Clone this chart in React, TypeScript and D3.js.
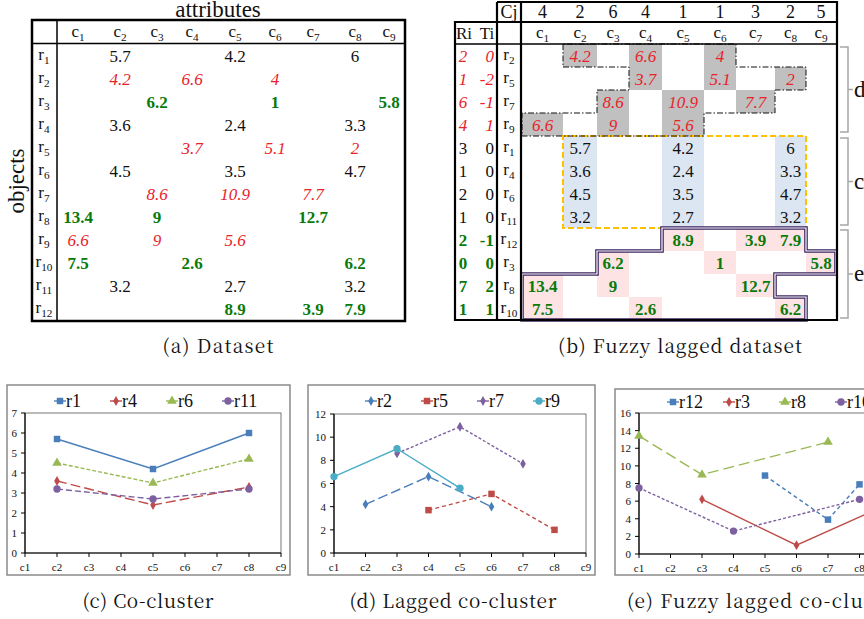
import React from "react";
import * as d3 from "d3";

// ---------------- DATA ----------------
const COLS = ["c1", "c2", "c3", "c4", "c5", "c6", "c7", "c8", "c9"];
const ROWS = ["r1", "r2", "r3", "r4", "r5", "r6", "r7", "r8", "r9", "r10", "r11", "r12"];

const r1 = [null, 5.7, null, null, 4.2, null, null, 6, null];
const r2 = [null, 4.2, null, 6.6, null, 4, null, null, null];
const r3 = [null, null, 6.2, null, null, 1, null, null, 5.8];
const r4 = [null, 3.6, null, null, 2.4, null, null, 3.3, null];
const r5 = [null, null, null, 3.7, null, 5.1, null, 2, null];
const r6 = [null, 4.5, null, null, 3.5, null, null, 4.7, null];
const r7 = [null, null, 8.6, null, 10.9, null, 7.7, null, null];
const r8 = [13.4, null, 9, null, null, null, 12.7, null, null];
const r9 = [6.6, null, 9, null, 5.6, null, null, null, null];
const r10 = [7.5, null, null, 2.6, null, null, null, 6.2, null];
const r11 = [null, 3.2, null, null, 2.7, null, null, 3.2, null];
const r12 = [null, null, null, null, 8.9, null, 3.9, 7.9, null];
const VALUES: Record<string, (number | null)[]> = { r1, r2, r3, r4, r5, r6, r7, r8, r9, r10, r11, r12 };

const GROUP_D = ["r2", "r5", "r7", "r9"];
const GROUP_C = ["r1", "r4", "r6", "r11"];
const GROUP_E = ["r12", "r3", "r8", "r10"];
const ORDER_B = [...GROUP_D, ...GROUP_C, ...GROUP_E];
const CJ = [4, 2, 6, 4, 1, 1, 3, 2, 5];
const RI = [2, 1, 6, 4, 3, 1, 2, 1, 2, 0, 7, 1];
const TI = [0, -2, -1, 1, 0, 0, 0, 0, -1, 0, 2, 1];

// ---------------- STYLE ----------------
const SERIF = '"Liberation Serif"';
const CAPFONT = '"Noto Serif CJK SC"';
const RED = "#e8232a";
const GREEN = "#0a7a0a";
const BLUE = "#4a7ebb";
const LRED = "#be4b48";
const LGREEN = "#98b954";
const PURPLE = "#7d60a0";
const CYAN = "#4bacc6";

// Text component that always carries its font inline
const T = ({ font, italic, bold, children, ...rest }: any) => (
  <text
    {...rest}
    style={{ fontFamily: font || SERIF, fontStyle: italic ? "italic" : "normal", fontWeight: bold ? "bold" : "normal" }}
  >
    {children}
  </text>
);

function groupStyle(row: string): any {
  if (GROUP_D.includes(row)) return { fill: RED, italic: true };
  if (GROUP_E.includes(row)) return { fill: GREEN, bold: true };
  return { fill: "#111" };
}

const Sub = ({ x, y, base, sub, size = 17 }: any) => (
  <T x={x} y={y} textAnchor="middle" fontSize={size} fill="#111">
    {base}
    <tspan dy={4} fontSize={size * 0.66}>{sub}</tspan>
  </T>
);

const Caption = ({ x, y, w, anchor, children }: any) => (
  <T x={x} y={y} textAnchor={anchor || "middle"} fontSize={19} fill="#111" textLength={w} lengthAdjust="spacing" font={CAPFONT}>
    {children}
  </T>
);

// ---------------- TABLE A ----------------
function TableA() {
  const x = d3.scaleOrdinal<string, number>(COLS, [78, 120, 157, 192, 235, 275, 313, 355, 389]);
  const y = d3.scaleBand<string>(ROWS, [44, 321]);
  const bw = y.bandwidth();
  return (
    <g>
      <T x={218} y={17} textAnchor="middle" fontSize={23} fill="#111">attributes</T>
      <T transform="translate(24,181) rotate(-90)" textAnchor="middle" fontSize={23} fill="#111">objects</T>
      {COLS.map((c) => (
        <Sub key={c} x={x(c)} y={37} base="c" sub={c.slice(1)} />
      ))}
      {ROWS.map((r) => (
        <g key={r}>
          <Sub x={44} y={(y(r) as number) + bw / 2 + 4} base="r" sub={r.slice(1)} />
          {VALUES[r].map((v, i) =>
            v == null ? null : (
              <T key={i} x={x(COLS[i])} y={(y(r) as number) + bw / 2 + 6} textAnchor="middle" fontSize={17} {...groupStyle(r)}>
                {String(v)}
              </T>
            )
          )}
        </g>
      ))}
      <rect x={32} y={20} width={373} height={301} fill="none" stroke="#000" strokeWidth={2.5} />
      <line x1={32} x2={405} y1={43.5} y2={43.5} stroke="#000" strokeWidth={1.5} />
      <line x1={57} x2={57} y1={20} y2={321} stroke="#000" strokeWidth={1.5} />
    </g>
  );
}

// ---------------- TABLE B ----------------
const XE = [522, 563, 597, 629, 662, 704, 736, 775, 806, 836];
function TableB() {
  const x = d3.scaleOrdinal<string, number>(COLS, XE.slice(0, 9));
  const w = (c: string) => XE[COLS.indexOf(c) + 1] - XE[COLS.indexOf(c)];
  const y = d3.scaleBand<string>(ORDER_B, [44, 320]);
  const bw = y.bandwidth();
  const ye = (j: number) => 44 + j * bw;
  const pt = (pts: number[][]) => "M" + pts.map(([i, j]) => `${XE[i]},${ye(j)}`).join("L") + "Z";
  const dPath = pt([[1, 0], [1, 1], [3, 1], [3, 2], [2, 2], [2, 3], [0, 3], [0, 4], [5, 4], [5, 3], [7, 3], [7, 2], [8, 2], [8, 1], [6, 1], [6, 0]]);
  const ePath = pt([[4, 8], [8, 8], [8, 9], [9, 9], [9, 10], [7, 10], [7, 11], [8, 11], [8, 12], [0, 12], [0, 10], [2, 10], [2, 9], [4, 9]]);
  const fillFor = (r: string) => (GROUP_D.includes(r) ? "#c0c0c0" : GROUP_E.includes(r) ? "#fde3e3" : "#dce6f2");
  const brace = (y0: number, y1: number, label: string) => {
    const ym = (y0 + y1) / 2;
    return (
      <g key={label}>
        <path d={`M840,${y0}H848V${y1}H840M848,${ym}H853`} fill="none" stroke="#a6a6a6" strokeWidth={1.5} />
        <T x={854} y={ym + 7} fontSize={23} fill="#111">{label}</T>
      </g>
    );
  };
  return (
    <g>
      {ORDER_B.map((r) =>
        VALUES[r].map((v, i) =>
          v == null ? null : (
            <rect key={r + i} x={x(COLS[i])} y={y(r)} width={w(COLS[i])} height={bw} fill={fillFor(r)} />
          )
        )
      )}
      {CJ.map((v, i) => (
        <T key={"cj" + i} x={x(COLS[i]) + w(COLS[i]) / 2} y={18} textAnchor="middle" fontSize={18} fill="#111">{v}</T>
      ))}
      <T x={509} y={18} textAnchor="middle" fontSize={18} fill="#111">Cj</T>
      {COLS.map((c) => (
        <Sub key={c} x={x(c) + w(c) / 2} y={38} base="c" sub={c.slice(1)} />
      ))}
      <T x={464} y={39} textAnchor="middle" fontSize={17} fill="#111">Ri</T>
      <T x={487} y={39} textAnchor="middle" fontSize={17} fill="#111">Ti</T>
      {ORDER_B.map((r, k) => {
        const cy = (y(r) as number) + bw / 2;
        return (
          <g key={r}>
            <T x={463} y={cy + 6} textAnchor="middle" fontSize={17} {...groupStyle(r)}>{RI[k]}</T>
            <T x={494} y={cy + 6} textAnchor="end" fontSize={17} {...groupStyle(r)}>{TI[k]}</T>
            <Sub x={509} y={cy + 4} base="r" sub={r.slice(1)} />
            {VALUES[r].map((v, i) =>
              v == null ? null : (
                <T key={i} x={x(COLS[i]) + w(COLS[i]) / 2} y={cy + 6} textAnchor="middle" fontSize={17} {...groupStyle(r)}>
                  {String(v)}
                </T>
              )
            )}
          </g>
        );
      })}
      <rect x={XE[1]} y={ye(4)} width={XE[8] - XE[1]} height={ye(8) - ye(4)} fill="none" stroke="#ffc000" strokeWidth={2} strokeDasharray="6,3" />
      <path d={dPath} fill="none" stroke="#111" strokeWidth={1} strokeDasharray="6,2,1.5,2" />
      <path d={ePath} fill="none" stroke="#3b2561" strokeWidth={3.6} />
      <path d={ePath} fill="none" stroke="#fff" strokeWidth={1.2} />
      <g stroke="#000" strokeWidth={2.2} fill="none">
        <path d="M497,2H837V320H455V22H837" />
        <line x1={497} x2={497} y1={2} y2={320} />
        <line x1={521} x2={521} y1={2} y2={320} />
        <line x1={455} x2={837} y1={44} y2={44} strokeWidth={1.6} />
      </g>
      {brace(47, 132, "d")}
      {brace(138, 225, "c")}
      {brace(230, 318, "e")}
    </g>
  );
}

// ---------------- LINE CHARTS ----------------
type Sty = { color: string; dash: string | null; symbol: string };
const STYLE_C: Sty[] = [
  { color: BLUE, dash: null, symbol: "square" },
  { color: LRED, dash: "10,4", symbol: "diamond" },
  { color: LGREEN, dash: "4,2", symbol: "triangle" },
  { color: PURPLE, dash: "6,3", symbol: "circle" },
];
const STYLE_D: Sty[] = [
  { color: BLUE, dash: "10,4", symbol: "diamond" },
  { color: LRED, dash: "4,3", symbol: "square" },
  { color: PURPLE, dash: "3,2", symbol: "diamond" },
  { color: CYAN, dash: null, symbol: "circle" },
];
const STYLE_E: Sty[] = [
  { color: BLUE, dash: "4,3", symbol: "square" },
  { color: LRED, dash: null, symbol: "diamond" },
  { color: LGREEN, dash: "11,5", symbol: "triangle" },
  { color: PURPLE, dash: "3,2", symbol: "circle" },
];

const SYM: Record<string, [any, number]> = {
  square: [d3.symbolSquare, 42],
  diamond: [d3.symbolDiamond, 28],
  triangle: [d3.symbolTriangle, 40],
  circle: [d3.symbolCircle, 42],
};

function Marker({ x, y, s }: { x: number; y: number; s: Sty }) {
  const [t, size] = SYM[s.symbol];
  const d = d3.symbol().type(t).size(size)() as string;
  return <path d={d} transform={`translate(${x},${y})`} fill={s.color} />;
}

function LineChart({ frame, plot, yMax, yStep, rows, styles, legendX, legendY, caption, capX, capW, capAnchor }: any) {
  const x = d3.scalePoint<string>(COLS, [plot.l, plot.r]);
  const y = d3.scaleLinear([0, yMax], [plot.b, plot.t]);
  const ticks = d3.range(0, yMax + yStep / 2, yStep);
  const line = d3
    .line<[string, number]>()
    .x((d) => x(d[0]) as number)
    .y((d) => y(d[1]));
  return (
    <g>
      <rect x={frame.x} y={frame.y} width={frame.w} height={frame.h} fill="#fff" stroke="#8a8a8a" strokeWidth={1.5} />
      <rect x={plot.l} y={plot.t} width={plot.r - plot.l} height={plot.b - plot.t} fill="none" stroke="#555" strokeWidth={0.8} />
      <line x1={plot.l} x2={plot.l} y1={plot.t} y2={plot.b} stroke="#000" strokeWidth={1.2} />
      <line x1={plot.l} x2={plot.r} y1={plot.b} y2={plot.b} stroke="#000" strokeWidth={1.2} />
      {ticks.map((t) => (
        <g key={t}>
          <line x1={plot.l - 4} x2={plot.l} y1={y(t)} y2={y(t)} stroke="#000" />
          <T x={plot.l - 8} y={y(t) + 4} textAnchor="end" fontSize={11} fill="#111">{t}</T>
        </g>
      ))}
      {COLS.map((c) => (
        <g key={c}>
          <line x1={x(c)} x2={x(c)} y1={plot.b} y2={plot.b + 4} stroke="#000" />
          <T x={x(c)} y={plot.b + 18} textAnchor="middle" fontSize={11} fill="#111">{c}</T>
        </g>
      ))}
      {rows.map((r: string, k: number) => {
        const pts = VALUES[r].map((v, i) => [COLS[i], v]).filter((d) => d[1] != null) as [string, number][];
        const s = styles[k];
        return (
          <g key={r}>
            <path d={line(pts) as string} fill="none" stroke={s.color} strokeWidth={1.4} strokeDasharray={s.dash || undefined} />
            {pts.map((p, i) => (
              <Marker key={i} x={x(p[0]) as number} y={y(p[1])} s={s} />
            ))}
          </g>
        );
      })}
      {rows.map((r: string, k: number) => {
        const lx = legendX + k * 56;
        const s = styles[k];
        return (
          <g key={"lg" + r}>
            <line x1={lx} x2={lx + 12} y1={legendY} y2={legendY} stroke={s.color} strokeWidth={1.4} />
            <Marker x={lx + 6} y={legendY} s={s} />
            <T x={lx + 12} y={legendY + 6} fontSize={18} fill="#111">{r}</T>
          </g>
        );
      })}
      <Caption x={capX} y={608} w={capW} anchor={capAnchor}>{caption}</Caption>
    </g>
  );
}

export default function App() {
  return (
    <svg width={864} height={619} style={{ position: "absolute", left: 0, top: 0, background: "#fff" }}>
      <rect x={0} y={0} width={864} height={619} fill="#fff" />
      <TableA />
      <Caption x={218} y={353} w={111}>(a) Dataset</Caption>
      <TableB />
      <Caption x={680} y={353} w={244}>(b) Fuzzy lagged dataset</Caption>
      <LineChart
        frame={{ x: 7, y: 385, w: 283, h: 190 }}
        plot={{ l: 25, r: 281, t: 413, b: 553 }}
        yMax={7}
        yStep={1}
        rows={GROUP_C}
        styles={STYLE_C}
        legendX={54}
        legendY={401}
        caption="(c) Co-cluster"
        capX={148}
        capW={131}
      />
      <LineChart
        frame={{ x: 308, y: 385, w: 287, h: 190 }}
        plot={{ l: 334, r: 586, t: 414, b: 553 }}
        yMax={12}
        yStep={2}
        rows={GROUP_D}
        styles={STYLE_D}
        legendX={365}
        legendY={401}
        caption="(d) Lagged co-cluster"
        capX={453}
        capW={207}
      />
      <LineChart
        frame={{ x: 615, y: 389, w: 300, h: 186 }}
        plot={{ l: 639, r: 891, t: 413, b: 554 }}
        yMax={16}
        yStep={2}
        rows={GROUP_E}
        styles={STYLE_E}
        legendX={667}
        legendY={402}
        caption="(e) Fuzzy lagged co-cluster"
        capX={627}
        capW={276}
        capAnchor="start"
      />
    </svg>
  );
}
